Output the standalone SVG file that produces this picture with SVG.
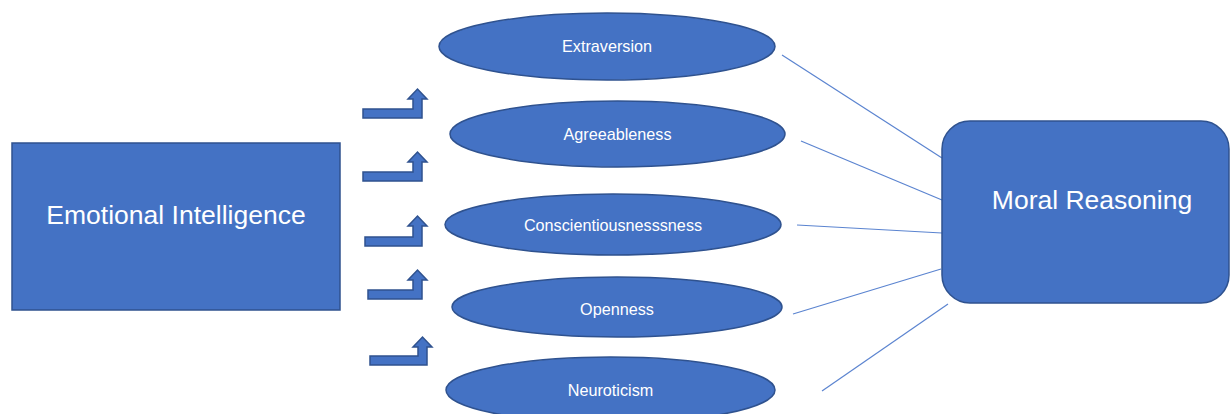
<svg xmlns="http://www.w3.org/2000/svg" width="1230" height="414" viewBox="0 0 1230 414">
<style>
.shape{fill:#4472C4;stroke:#2F528F;stroke-width:1.5}
.conn{stroke:#5B84D0;stroke-width:1.2;fill:none}
.big{font-family:"Liberation Sans",Arial,sans-serif;font-size:26.5px;fill:#FFFFFF;text-anchor:middle}
.small{font-family:"Liberation Sans",Arial,sans-serif;font-size:16.2px;fill:#FFFFFF;text-anchor:middle}
</style>
<rect width="1230" height="414" fill="#FFFFFF"/>
<g id="connectors">
<line class="conn" x1="782" y1="55" x2="942" y2="158"/>
<line class="conn" x1="801" y1="141" x2="942" y2="200"/>
<line class="conn" x1="797" y1="225" x2="942" y2="233"/>
<line class="conn" x1="793" y1="314" x2="941" y2="269"/>
<line class="conn" x1="822" y1="391" x2="948" y2="304"/>
</g>
<g id="arrows">
<polygon class="shape" points="363,109 413,109 413,99 408,99 417.5,89 427,99 422,99 422,118 363,118"/>
<polygon class="shape" points="363,172 413,172 413,162 408,162 417.5,152 427,162 422,162 422,181 363,181"/>
<polygon class="shape" points="365,237 413,237 413,226 408,226 417.5,216 427,226 422,226 422,246 365,246"/>
<polygon class="shape" points="368,290 413,290 413,280 408,280 417.5,270 427,280 422,280 422,299 368,299"/>
<polygon class="shape" points="370,356 418,356 418,347 413,347 422.5,337 432,347 427,347 427,365 370,365"/>
</g>
<g id="emotional-intelligence">
<rect class="shape" x="12" y="143" width="328" height="167"/>
<text class="big" x="176" y="224">Emotional Intelligence</text>
</g>
<g id="extraversion">
<ellipse class="shape" cx="607" cy="46.5" rx="168" ry="33.5"/>
<text class="small" x="607" y="52">Extraversion</text>
</g>
<g id="agreeableness">
<ellipse class="shape" cx="617.5" cy="134" rx="167.5" ry="33"/>
<text class="small" x="617.5" y="140">Agreeableness</text>
</g>
<g id="conscientiousness">
<ellipse class="shape" cx="613" cy="224.5" rx="168" ry="30.5"/>
<text class="small" x="613" y="231">Conscientiousnesssness</text>
</g>
<g id="openness">
<ellipse class="shape" cx="617" cy="307" rx="165" ry="30"/>
<text class="small" x="617" y="315">Openness</text>
</g>
<g id="neuroticism">
<ellipse class="shape" cx="610.5" cy="390" rx="164.5" ry="33"/>
<text class="small" x="610.5" y="396">Neuroticism</text>
</g>
<g id="moral-reasoning">
<rect class="shape" x="942" y="121" width="287" height="182" rx="28" ry="28"/>
<text class="big" x="1092" y="209">Moral Reasoning</text>
</g>
</svg>
